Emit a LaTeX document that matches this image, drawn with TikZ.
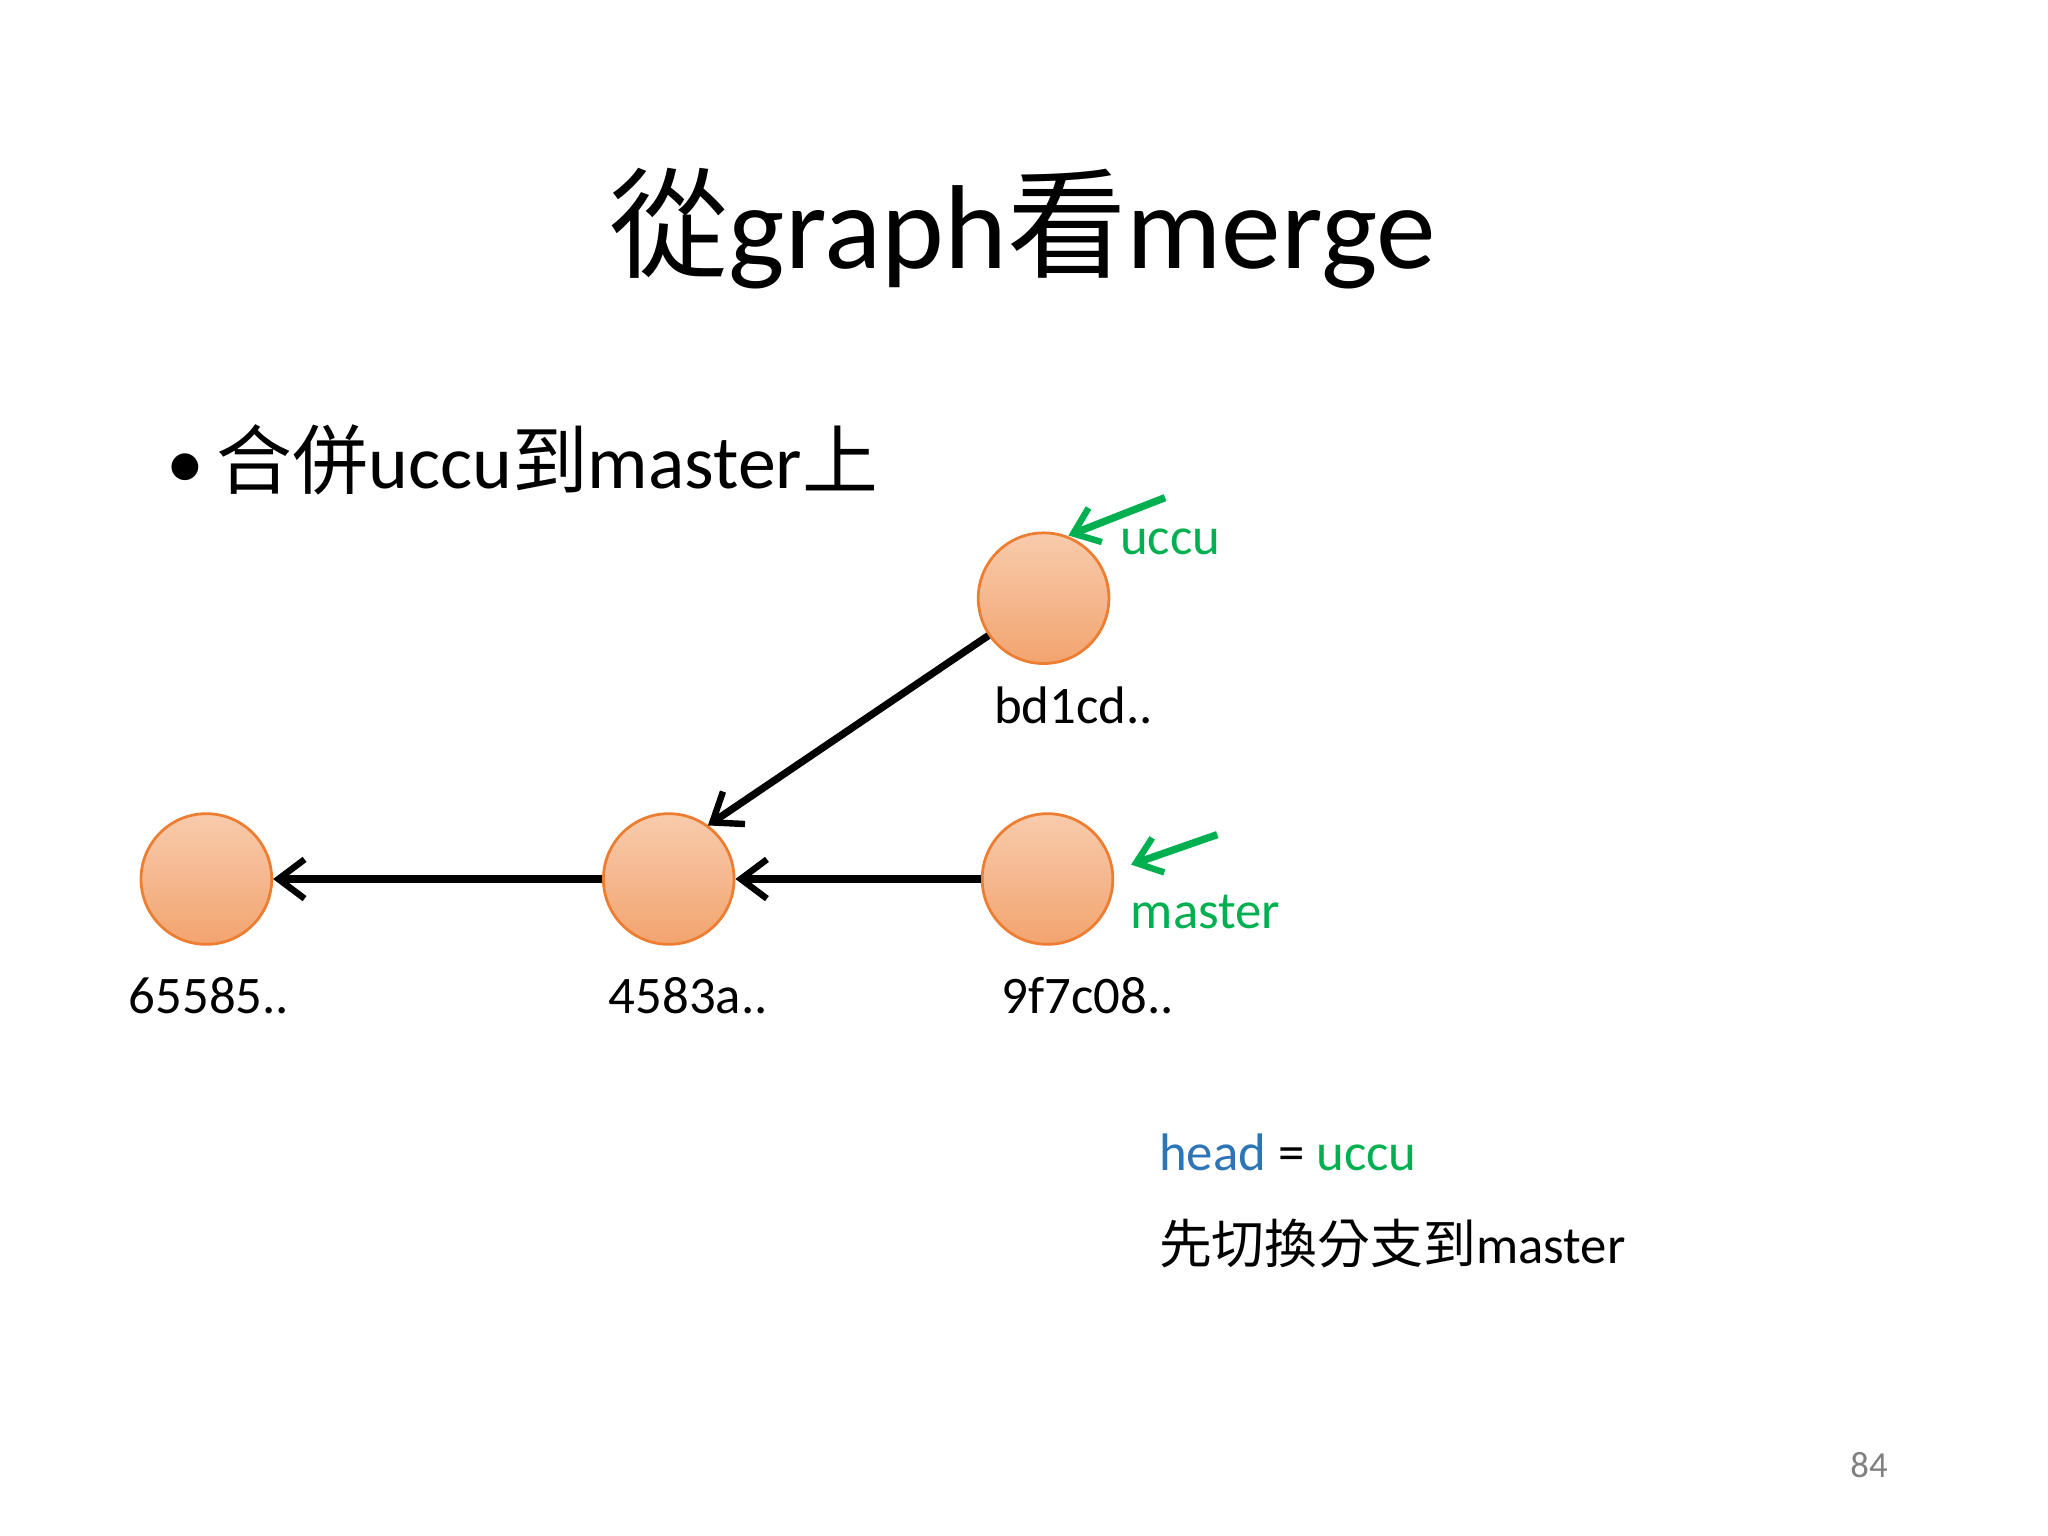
\documentclass[tikz,border=0pt]{standalone}
\usepackage{fontspec}
\setmainfont{Carlito}
\newfontfamily\cjk{Noto Sans CJK TC}
\usetikzlibrary{arrows.meta}
\definecolor{gr}{RGB}{0,176,80}
\definecolor{bl}{RGB}{46,117,182}
\definecolor{orb}{RGB}{237,125,49}
\tikzset{
  commit/.style={circle,minimum size=1.0cm,inner sep=0pt,draw=orb,line width=0.6pt,top color=orb!40!white,bottom color=orb!70!white},
  lbl/.style={font=\fontsize{11.5}{14}\selectfont},
  glbl/.style={font=\fontsize{11.5}{14}\selectfont,text=gr},
  edge/.style={-{Straight Barb[length=2mm,width=3mm,line width=1.4pt]},line width=1.6pt},
  garrow/.style={-{Straight Barb[length=1.8mm,width=2.8mm,line width=1.4pt]},line width=1.6pt,draw=gr}
}
\begin{document}
\begin{tikzpicture}[x=0.01cm,y=-0.01cm]
\useasboundingbox[fill=white] (0,0) rectangle (1568,1176);
\node (title) at (783,175) {\fontsize{26}{30}\selectfont{\cjk 從}graph{\cjk 看}merge};
\node[anchor=west] (bul) at (115,352) {\fontsize{16.5}{20}\selectfont •\,{\cjk 合併}uccu{\cjk 到}master{\cjk 上}};
\node[commit] (b) at (799,458) {};
\node[commit] (a) at (158,673) {};
\node[commit] (c) at (512,673) {};
\node[commit] (n) at (802,673) {};
\node[lbl] (lb) at (822,540) {bd1cd..};
\node[lbl] (la) at (160,762) {65585..};
\node[lbl] (lc) at (527,762) {4583a..};
\node[lbl] (ln) at (833,762) {9f7c08..};
\node[glbl] (u) at (896,415) {uccu};
\node[glbl] (m) at (923,698) {master};
\coordinate (u1) at (892,381); \coordinate (u2) at (818,410);
\coordinate (m1) at (932,639); \coordinate (m2) at (866,662);
\draw[garrow] (u1) -- (u2);
\draw[garrow] (m1) -- (m2);
\draw[edge] (b) -- (542,632);
\draw[edge] (n) -- (c);
\draw[edge] (c) -- (a);
\node[anchor=west,font=\fontsize{11.5}{14}\selectfont] (h) at (875,882) {\textcolor{bl}{head} = \textcolor{gr}{uccu}};
\node[anchor=west,font=\fontsize{11.5}{14}\selectfont] (s) at (875,952) {{\cjk 先切換分支到}master};
\node[text=gray,font=\fontsize{8}{10}\selectfont] (p) at (1431,1122) {84};
\end{tikzpicture}
\end{document}
